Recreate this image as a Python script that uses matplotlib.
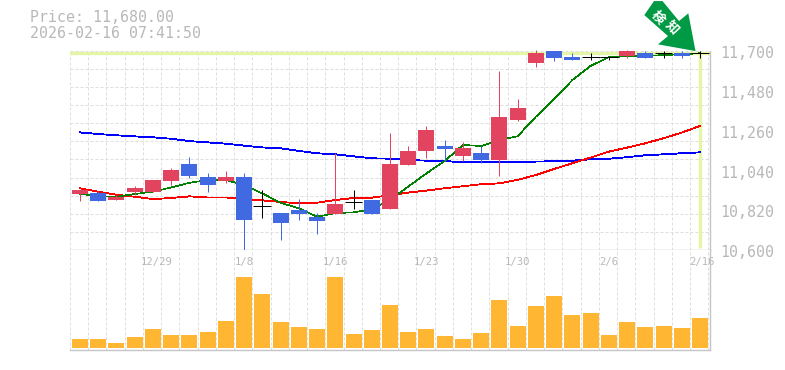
import numpy as np
import matplotlib
matplotlib.use("Agg")
import matplotlib.pyplot as plt
from matplotlib.patches import Polygon
from matplotlib.transforms import Affine2D, blended_transform_factory

# ---- data ----
opens = [10909,10914,10876,10920,10920,10980,11074,11003,10980,11003,10841,10804,10821,10782,10799,10863,10876,
         10827,11069,11147,11174,11119,11136,11097,11318,11632,11698,11665,11664,11664,11671,11687,11687,11687,11687]
closes = [10931,10870,10892,10942,10986,11041,11008,10958,11003,10765,10841,10749,10799,10760,10854,10863,10799,
          11075,11147,11263,11158,11163,11097,11334,11384,11687,11660,11649,11664,11664,11698,11660,11687,11671,11687]
highs = [10931,10925,10903,10953,10986,11052,11113,11025,11036,11025,10931,10804,10882,10804,11136,10931,10876,
         11246,11174,11285,11207,11196,11174,11588,11434,11704,11698,11687,11687,11664,11704,11698,11698,11698,11698]
lows = [10870,10870,10876,10903,10920,10958,10997,10920,10969,10600,10776,10655,10766,10688,10799,10827,10799,
        10827,11069,11108,11091,11091,11080,11009,11312,11610,11643,11649,11649,11649,11660,11660,11660,11660,11660]
ma_short = [10909,10898,10894,10909,10922,10945,10971,10986,10986,10958,10912,10861,10830,10784,10803,10808,10825,
            10876,10950,11023,11091,11180,11174,11207,11228,11336,11432,11538,11616,11664,11669,11671,11676,11680,11686]
ma_mid = [10940,10922,10905,10894,10881,10887,10896,10890,10890,10881,10874,10865,10858,10861,10876,10887,10889,
          10902,10917,10928,10941,10952,10963,10968,10987,11014,11047,11079,11110,11143,11165,11189,11217,11248,11285]
ma_long = [11249,11240,11233,11227,11222,11214,11201,11194,11187,11176,11166,11161,11147,11134,11128,11117,11106,
           11104,11097,11093,11091,11084,11084,11084,11086,11088,11090,11093,11101,11104,11112,11123,11128,11134,11139]
volumes = [9,9,5,11,19,13,13,16,27,71,54,26,21,19,71,14,18,43,16,19,12,9,15,48,22,42,52,33,35,13,26,21,22,20,30]
date_pos = [4.2, 9, 14, 19, 24, 29, 34.1]
date_labels = ["12/29", "1/8", "1/16", "1/23", "1/30", "2/6", "2/16"]
price_ticks = [11700, 11480, 11260, 11040, 10820, 10600]
current_price = 11687
alert_text = ["検", "知"]

# ---- style ----
W, H = 785, 370
GRAY = "#B8B8B8"; GRID = "#DEDEDE"; BAND = "#E4F5A8"
UP = "#E2435F"; DOWN = "#4169E1"; VOL = "#FFB733"; ARROW = "#009944"
MONO = "DejaVu Sans Mono"

fig = plt.figure(figsize=(W/100, H/100), dpi=100, facecolor="white")
def axes_px(l, t, r, b):
    return fig.add_axes([l/W, 1-b/H, (r-l)/W, (b-t)/H])
ax = axes_px(70, 50.7, 710, 250)
av = axes_px(70, 250, 710, 350)

n = len(closes)
idx = np.arange(n)
xl = (-0.548, 34.548)
grid_x = np.arange(n+1) - 0.548

for a in (ax, av):
    a.set_xlim(*xl)
    a.set_xticks(grid_x)
    a.tick_params(length=0, labelbottom=False, labelleft=False)
    a.grid(True, axis="x", color=GRID, lw=0.72, dashes=(3, 2), zorder=0)
    a.set_axisbelow(True)
    for s in ("left", "top"):
        a.spines[s].set_visible(False)
    for s in ("right", "bottom"):
        a.spines[s].set_color("#C4C4C4")
        a.spines[s].set_linewidth(1.0)

ax.set_ylim(10600, 11700)
ax.set_yticks(np.arange(10600, 11701, 100))
ax.grid(True, axis="y", color=GRID, lw=0.72, dashes=(3, 2), zorder=0)

# current price bands
ax.axhline(current_price, color=BAND, lw=2.4, zorder=1, xmax=0.997)
ax.plot([idx[-1], idx[-1]], [10610, current_price], color=BAND, lw=2.4, zorder=1, solid_capstyle="butt")

# moving averages
ax.plot(idx, ma_long, color="#0000FF", lw=0.6, zorder=2, antialiased=False)
ax.plot(idx, ma_mid, color="#FF0000", lw=0.6, zorder=2, antialiased=False)
ax.plot(idx, ma_short, color="#008000", lw=0.45, zorder=2, antialiased=False)

# candles
w = 16/18.235
for i, (o, c, h, l) in enumerate(zip(opens, closes, highs, lows)):
    col = "black" if o == c else (UP if c > o else DOWN)
    ax.plot([i, i], [l, h], color=col, lw=0.72, zorder=3, clip_on=False, solid_capstyle="butt", snap=True)
    if o == c:
        ax.plot([i-w/2-0.05, i+w/2+0.05], [o, o], color=col, lw=0.72, zorder=3, clip_on=False, solid_capstyle="butt", snap=True)
    else:
        ax.bar(i, abs(c-o), bottom=min(o, c), width=w, color=col, lw=0, zorder=3, antialiased=False)

# price labels
for p in price_ticks:
    ax.annotate(f"{p:,}", xy=(1, p), xycoords=("axes fraction", "data"), xytext=(10.5, -2.8),
                textcoords="offset pixels", family=MONO, fontsize=10.7, color=GRAY, va="center", ha="left",
                annotation_clip=False)

# volume
av.set_ylim(-2, 98)
av.set_yticks([])
av.bar(idx, volumes, width=w, color=VOL, lw=0, zorder=3, antialiased=False)
tr = blended_transform_factory(av.transData, av.transAxes)
for x, s in zip(date_pos, date_labels):
    av.text(x, 0.88, s, transform=tr, family=MONO, fontsize=7.6, color=GRAY, ha="center", va="center", zorder=1, clip_on=False)

# header
fig.text(30/W, 1-18/H, "Price: 11,680.00", family=MONO, fontsize=10.7, color=GRAY, va="center", ha="left")
fig.text(30/W, 1-33/H, "2026-02-16 07:41:50", family=MONO, fontsize=10.7, color=GRAY, va="center", ha="left")

# alert arrow, offsets in pixels from the last candle's high
fig.canvas.draw()
tip = ax.transData.transform((idx[-1], highs[-1]))
outline = [(-4.5,0),(-42,-6.7),(-32,-15),(-55.7,-36),(-46,-50),(-37.5,-50),(-21,-30),(-11.7,-37.7)]
arrow_tr = Affine2D().scale(1, -1).translate(*tip)
fig.add_artist(Polygon(outline, closed=True, facecolor=ARROW, edgecolor="none", transform=arrow_tr, zorder=5))
for s, (dx, dy) in zip(alert_text, [(-42, 34), (-28, 24)]):
    fig.text((tip[0]+dx)/W, (tip[1]+dy)/H, s, family=["Noto Sans CJK JP"], fontweight="bold", fontsize=9.5, color="white",
             rotation=-47, ha="center", va="center", rotation_mode="anchor", zorder=6)

fig.savefig("out.png", dpi=100, facecolor="white")
